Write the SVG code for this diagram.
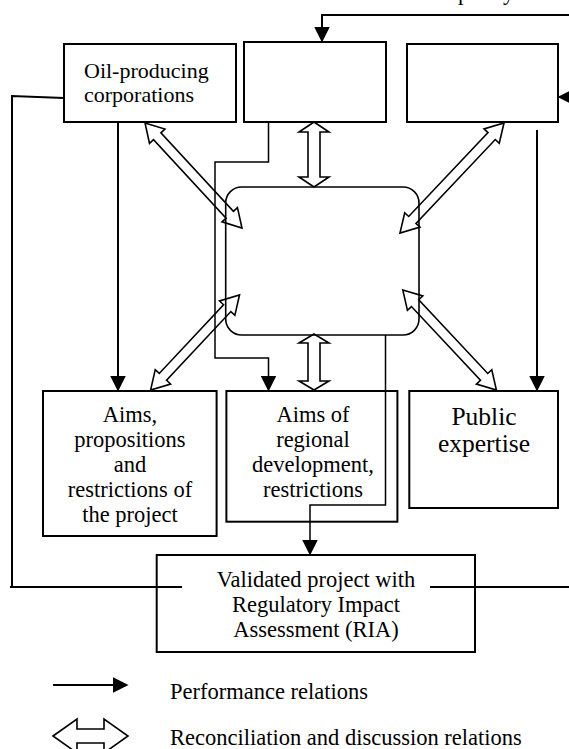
<svg xmlns="http://www.w3.org/2000/svg" width="569" height="749" viewBox="0 0 569 749">
<style>
.box{fill:none;stroke:#000;stroke-width:2}
.rbox{fill:none;stroke:#000;stroke-width:1.6}
.ln{fill:none;stroke:#000;stroke-width:2}
.thin{fill:none;stroke:#000;stroke-width:1.5}
.dbl{fill:none;stroke:#000;stroke-width:1.6;stroke-linejoin:miter}
text{font-family:"Liberation Serif","Times New Roman",serif;font-size:22.5px;fill:#000}
.c{text-anchor:middle}
</style>
<defs>
<marker id="ah" markerUnits="userSpaceOnUse" markerWidth="16" markerHeight="16" viewBox="0 0 15 15" refX="7" refY="7.5" orient="auto">
<path d="M0,0 L15,7.5 L0,15 z" fill="#000"/>
</marker>
</defs>
<rect width="569" height="749" fill="#fff"/>
<text x="458" y="0">policy</text>

<g id="node-oil">
<rect class="box" x="64" y="44" width="172" height="78"/>
<text x="84" y="78" style="font-size:22px">Oil-producing</text>
<text x="84" y="102" style="font-size:22px">corporations</text>
</g>
<g id="node-top-middle"><rect class="box" x="244" y="42" width="142" height="80"/></g>
<g id="node-top-right"><rect class="box" x="407" y="44" width="151" height="78"/></g>
<g id="node-center"><rect class="rbox" x="225.7" y="187" width="193.3" height="148" rx="16" ry="16"/></g>
<g id="node-aims">
<rect class="box" x="43" y="391" width="173.6" height="145"/>
<text class="c" x="130" y="422">Aims,</text>
<text class="c" x="130" y="447">propositions</text>
<text class="c" x="130" y="472">and</text>
<text class="c" x="130" y="497">restrictions of</text>
<text class="c" x="130" y="522">the project</text>
</g>
<g id="node-regional">
<rect class="box" x="226.4" y="391" width="171" height="130.7"/>
<text class="c" x="313" y="422">Aims of</text>
<text class="c" x="313" y="447">regional</text>
<text class="c" x="313" y="472">development,</text>
<text class="c" x="313" y="497">restrictions</text>
</g>
<g id="node-public">
<rect class="box" x="409.3" y="391" width="148.7" height="117"/>
<text class="c" x="484" y="425" style="font-size:25.5px">Public</text>
<text class="c" x="484" y="452" style="font-size:25.5px">expertise</text>
</g>
<g id="node-validated">
<rect class="box" x="156.7" y="555" width="318.3" height="97"/>
<text class="c" x="316" y="587">Validated project with</text>
<text class="c" x="316" y="612">Regulatory Impact</text>
<text class="c" x="316" y="637">Assessment (RIA)</text>
</g>

<g id="connectors">
<path class="ln" d="M575,15 H322 V34" marker-end="url(#ah)"/>
<path class="ln" d="M118,122 V383" marker-end="url(#ah)"/>
<path class="thin" d="M268.5,122 V162 H215 V358 H268.5 V383" marker-end="url(#ah)"/>
<path class="ln" d="M537,130 V383" marker-end="url(#ah)"/>
<path class="ln" d="M578,97 H566" marker-end="url(#ah)"/>
<path class="thin" d="M385.5,335 V505 H310 V547" marker-end="url(#ah)"/>
<path class="ln" d="M64,98 L12,96 V587"/>
<path class="ln" d="M10,587 H182"/>
<path class="ln" d="M430,587 H575"/>

<polygon class="dbl" transform="translate(145,123) rotate(47.27)" points="0,0 18,-10.5 18,-5 124.9,-5 124.9,-10.5 142.9,0 124.9,10.5 124.9,5 18,5 18,10.5"/>
<polygon class="dbl" transform="translate(504,123) rotate(133.4)" points="0,0 18,-10.5 18,-5 133.4,-5 133.4,-10.5 151.4,0 133.4,10.5 133.4,5 18,5 18,10.5"/>
<polygon class="dbl" transform="translate(239.5,295) rotate(133.1)" points="0,0 18,-10.5 18,-5 112.1,-5 112.1,-10.5 130.1,0 112.1,10.5 112.1,5 18,5 18,10.5"/>
<polygon class="dbl" transform="translate(402.8,290) rotate(46.9)" points="0,0 18,-10.5 18,-5 119,-5 119,-10.5 137,0 119,10.5 119,5 18,5 18,10.5"/>
<polygon class="dbl" points="314,122 329,132 320,132 320,177 329,177 314,187 299,177 308,177 308,132 299,132"/>
<polygon class="dbl" points="314,334 329,343 320,343 320,381 329,381 314,390 299,381 308,381 308,343 299,343"/>
</g>

<g id="legend">
<path class="ln" d="M53,685 H120" marker-end="url(#ah)"/>
<text x="170" y="699">Performance relations</text>
<polygon class="dbl" points="53,736 77,719 77,729 104,729 104,719 128,736 104,753 104,743 77,743 77,753"/>
<text x="170" y="745">Reconciliation and discussion relations</text>
</g>
</svg>
